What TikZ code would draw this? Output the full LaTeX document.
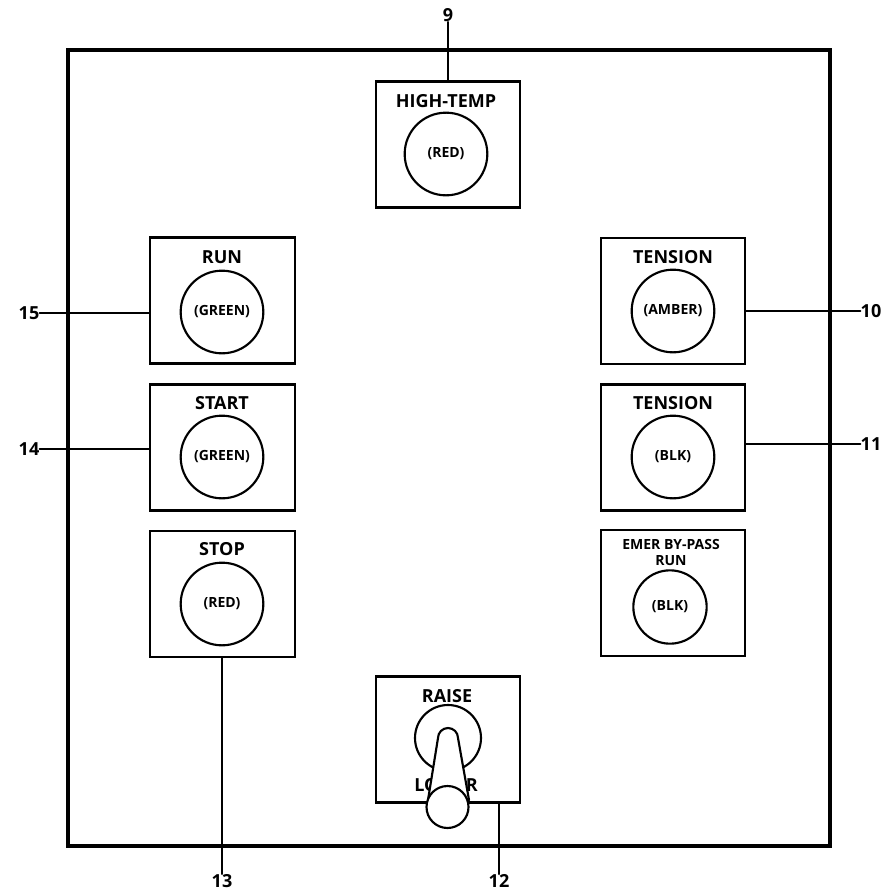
\documentclass[tikz,border=0pt]{standalone}
\usepackage{fontspec}
\setmainfont{Open Sans}
\begin{document}
\begin{tikzpicture}[x=0.75pt,y=-0.75pt,
  line cap=round,
  panelbox/.style={draw=black,line width=1.6pt,minimum width=108.5pt,minimum height=94.5pt,inner sep=0pt,fill=white},
  lamp/.style={circle,draw=black,line width=1.6pt,minimum size=62pt,inner sep=0pt,font=\bfseries\fontsize{10.5}{11}\selectfont},
  title/.style={font=\bfseries\fontsize{13.5}{14}\selectfont,inner sep=0pt},
  smalltitle/.style={font=\bfseries\fontsize{10.5}{12}\selectfont,inner sep=0pt,align=center},
  callout/.style={font=\bfseries\fontsize{13.5}{15}\selectfont,inner sep=0pt},
  leader/.style={draw=black,line width=1.2pt}]
\useasboundingbox (0,0) rectangle (887,896);
\node[draw=black,line width=3pt,minimum width=571pt,minimum height=597pt,inner sep=0pt] (frame) at (449,447.5) {};

\node[panelbox] (hightemp) at (448,144.5) {};
\node[panelbox] (run) at (222.5,300.5) {};
\node[panelbox] (start) at (222.5,447.5) {};
\node[panelbox] (stop) at (222.5,594) {};
\node[panelbox] (tensa) at (673,301) {};
\node[panelbox] (tensb) at (673,447.5) {};
\node[panelbox] (emer) at (673,593) {};
\node[panelbox] (raise) at (448,739.5) {};

\node[title] (thigh) at (446,101) {HIGH-TEMP};
\node[title] (trun) at (222,257) {RUN};
\node[title] (tstart) at (222,403) {START};
\node[title] (tstop) at (222,549) {STOP};
\node[title] (ttensa) at (673,257) {TENSION};
\node[title] (ttensb) at (673,403) {TENSION};
\node[smalltitle] (temer) at (671,552) {EMER BY-PASS\\RUN};
\node[title] (traise) at (447,696) {RAISE};

\node[lamp] (lhigh) at (446,154) {(RED)};
\node[lamp] (lrun) at (222,312) {(GREEN)};
\node[lamp] (lstart) at (222,457) {(GREEN)};
\node[lamp] (lstop) at (222,604) {(RED)};
\node[lamp] (ltensa) at (673,311) {(AMBER)};
\node[lamp] (ltensb) at (673,457) {(BLK)};
\node[lamp,minimum size=55pt] (lemer) at (670,607) {(BLK)};

% toggle switch
\node[circle,draw=black,line width=1.6pt,minimum size=49.5pt,inner sep=0pt] (collar) at (448,738) {};
\node[title] (tlower) at (446,785) {LOWER};
\coordinate (tipl) at (438,738);
\coordinate (tipr) at (458,738);
\coordinate (footl) at (428,800);
\coordinate (footr) at (469,800);
\draw[line width=1.6pt,fill=white,line join=round] (footl) -- (tipl) arc[start angle=180,end angle=360,radius=10] -- (footr) -- cycle;
\node[circle,draw=black,line width=1.6pt,fill=white,minimum size=31.5pt,inner sep=0pt] (ball) at (447.5,807) {};

% callouts
\node[callout] (n9) at (448,15) {9};
\node[callout] (n15) at (29,313) {15};
\node[callout] (n14) at (29,449) {14};
\node[callout] (n13) at (222,881) {13};
\node[callout] (n12) at (499,881) {12};
\node[callout] (n10) at (871,311) {10};
\node[callout] (n11) at (871,444) {11};

\draw[leader] (n9.south) -- (hightemp.north -| n9.south);
\draw[leader] (n15.east) -- (n15.east -| run.west);
\draw[leader] (n14.east) -- (n14.east -| start.west);
\draw[leader] (n13.north) -- (stop.south -| n13.north);
\draw[leader] (n12.north) -- (raise.south -| n12.north);
\draw[leader] (n10.west) -- (n10.west -| tensa.east);
\draw[leader] (n11.west) -- (n11.west -| tensb.east);
\end{tikzpicture}
\end{document}
